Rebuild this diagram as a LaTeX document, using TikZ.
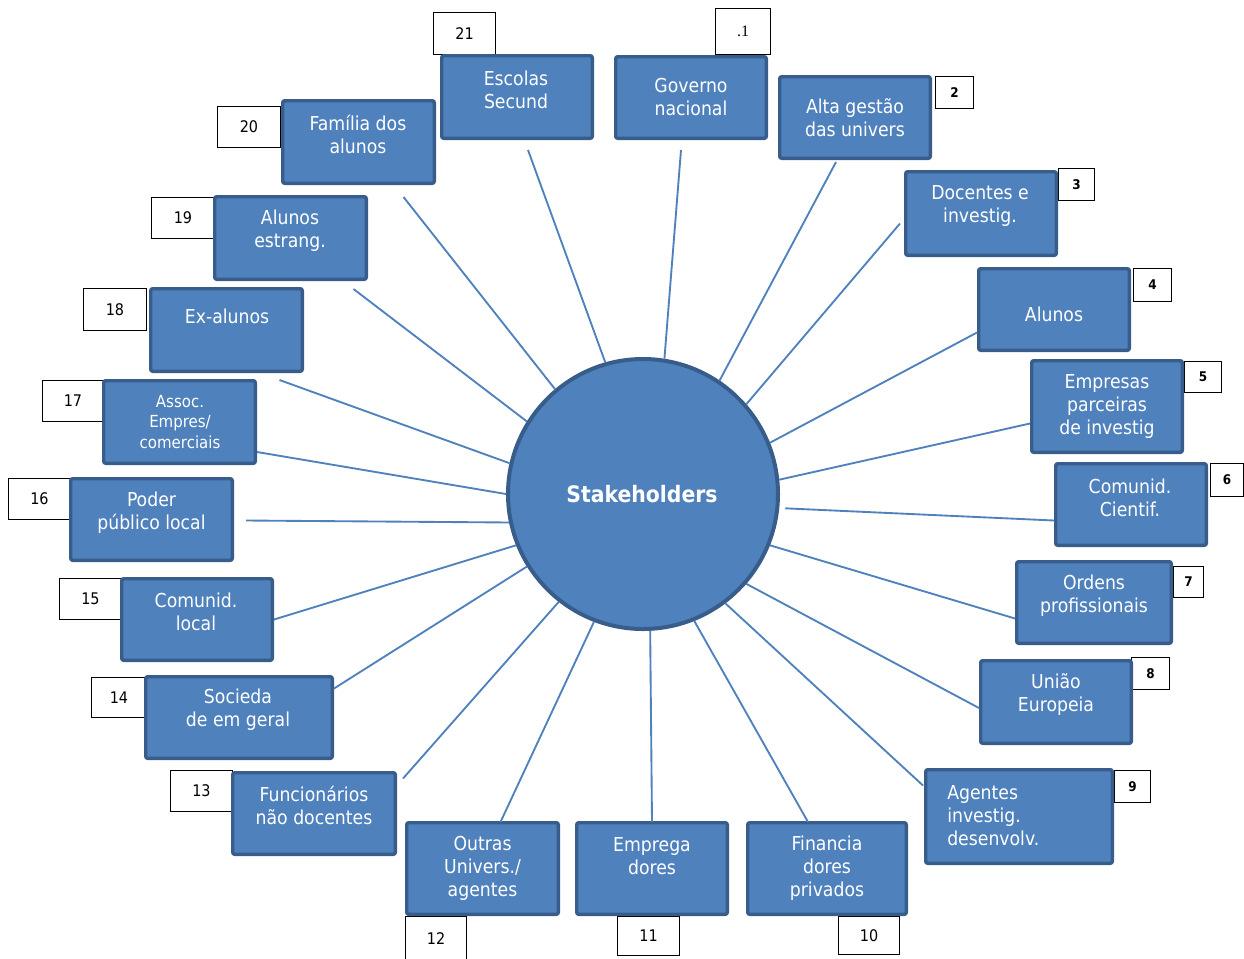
\documentclass[tikz,border=0pt]{standalone}
\usepackage{fontspec}
\usetikzlibrary{calc}
\setmainfont{DejaVu Sans Condensed}
\newfontfamily\numserif{Liberation Serif}
\definecolor{boxfill}{HTML}{4F81BD}
\definecolor{boxline}{HTML}{385D8A}
\definecolor{linkc}{HTML}{4F81BD}
\begin{document}
\begin{tikzpicture}[x=0.75pt,y=-0.75pt,
  sbox/.style 2 args={draw=boxline, fill=boxfill, line width=2.6pt,
    rounded corners=1.5pt, inner sep=0pt,
    minimum width=#1*0.75pt-2.6pt, minimum height=#2*0.75pt-2.6pt},
  lbl/.style={text=white, align=center, font=\fontsize{14.4}{17.25}\selectfont, inner sep=0pt},
  nbox/.style 2 args={draw=black, fill=white, line width=1.1pt, inner sep=0pt,
    minimum width=#1*0.75pt-1.1pt, minimum height=#2*0.75pt-1.1pt},
  num/.style={font=\fontsize{12}{14}\selectfont},
  snum/.style={font=\fontsize{10}{12}\selectfont\bfseries},
  link/.style={draw=linkc, line width=1.4pt}]
\clip (0,0) rectangle (1244,958);
\useasboundingbox (0,0) rectangle (1244,958);

% number tags (behind the blue boxes)
\node[nbox={56}{47}, num] (n1) at (743,31.5) {\numserif .1};
\node[nbox={39}{33}, snum] (n2) at (954.5,92.5) {2};
\node[nbox={37}{33}, snum] (n3) at (1076.5,184.5) {3};
\node[nbox={39}{34}, snum] (n4) at (1152.5,285) {4};
\node[nbox={38}{32}, snum] (n5) at (1203,377) {5};
\node[nbox={34}{34}, snum] (n6) at (1227,480) {6};
\node[nbox={31}{32}, snum] (n7) at (1188.5,582) {7};
\node[nbox={39}{33}, snum] (n8) at (1150.5,673.5) {8};
\node[nbox={37}{33}, snum] (n9) at (1132.5,786.5) {9};
\node[nbox={62}{39}, num] (n10) at (869,935.5) {10};
\node[nbox={63}{40}, num] (n11) at (648.5,936) {11};
\node[nbox={62}{46}, num] (n12) at (436,939) {12};
\node[nbox={63}{42}, num] (n13) at (201.5,791) {13};
\node[nbox={56}{41}, num] (n14) at (119,697.5) {14};
\node[nbox={63}{42}, num] (n15) at (90.5,599) {15};
\node[nbox={63}{42}, num] (n16) at (39.5,499) {16};
\node[nbox={62}{42}, num] (n17) at (73,401) {17};
\node[nbox={64}{43}, num] (n18) at (115,309.5) {18};
\node[nbox={64}{42}, num] (n19) at (183,218) {19};
\node[nbox={64}{42}, num] (n20) at (249,127) {20};
\node[nbox={63}{43}, num] (n21) at (464.5,33.5) {21};

% central hub
\node[draw=boxline, fill=boxfill, line width=3pt, circle, inner sep=0pt,
  minimum size=274*0.75pt-3pt] (hub) at (643,494) {};
\node[text=white, font=\fontsize{17}{20}\selectfont\bfseries] (hubtxt) at (642,494) {Stakeholders};

% stakeholder boxes
\node[sbox={154}{85}] (b1) at (691,97.5) {};
\node[sbox={154}{85}] (b2) at (855,117.5) {};
\node[sbox={154}{87}] (b3) at (981,213.5) {};
\node[sbox={154}{85}] (b4) at (1054,309.5) {};
\node[sbox={154}{95}] (b5) at (1107,406.5) {};
\node[sbox={154}{85}] (b6) at (1131,504.5) {};
\node[sbox={158}{85}] (b7) at (1094,602.5) {};
\node[sbox={154}{86}] (b8) at (1056,702) {};
\node[sbox={190}{97}] (b9) at (1019,816.5) {};
\node[sbox={162}{95}] (b10) at (827,868.5) {};
\node[sbox={154}{95}] (b11) at (652,868.5) {};
\node[sbox={155}{95}] (b12) at (482.5,868.5) {};
\node[sbox={166}{85}] (b13) at (314,813.5) {};
\node[sbox={190}{85}] (b14) at (239,717.5) {};
\node[sbox={154}{85}] (b15) at (197,619.5) {};
\node[sbox={165}{85}] (b16) at (151.5,519.5) {};
\node[sbox={155}{86}] (b17) at (179.5,422) {};
\node[sbox={155}{86}] (b18) at (226.5,330) {};
\node[sbox={155}{86}] (b19) at (290.5,238) {};
\node[sbox={155}{86}] (b20) at (358.5,142) {};
\node[sbox={154}{86}] (b21) at (517,97) {};

% box texts
\node[lbl] (t1) at (691,97) {Governo\\nacional};
\node[lbl] (t2) at (855,117.5) {Alta gestão\\das univers};
\node[lbl] (t3) at (980,206) {Docentes e\\investig.};
\node[lbl] (t4) at (1054,314) {Alunos};
\node[lbl] (t5) at (1107,406) {Empresas\\parceiras\\de investig};
\node[lbl] (t6) at (1130,497.5) {Comunid.\\Cientif.};
\node[lbl] (t7) at (1094,595.5) {Ordens\\profissionais};
\node[lbl] (t8) at (1056,694.5) {União\\Europeia};
\node[lbl, align=left, anchor=west] (t9) at (947,816) {Agentes\\investig.\\desenvolv.};
\node[lbl] (t10) at (827,868) {Financia\\dores\\privados};
\node[lbl] (t11) at (652,856.5) {Emprega\\dores};
\node[lbl] (t12) at (482.5,868) {Outras\\Univers./\\agentes};
\node[lbl] (t13) at (314,805.5) {Funcionários\\não docentes};
\node[lbl] (t14) at (238,709.5) {Socieda\\de em geral};
\node[lbl] (t15) at (196,612) {Comunid.\\local};
\node[lbl] (t16) at (151.5,512.5) {Poder\\público local};
\node[lbl, font=\fontsize{12.5}{15.4}\selectfont] (t17) at (180,422) {Assoc.\\Empres/\\comerciais};
\node[lbl] (t18) at (227,316) {Ex-alunos};
\node[lbl] (t19) at (290,230.5) {Alunos\\estrang.};
\node[lbl] (t20) at (358,134.5) {Família dos\\alunos};
\node[lbl] (t21) at (516,89.5) {Escolas\\Secund};

% spokes from the hub to each stakeholder
\draw[link] (hub.81.6)   -- ($(b1.south)+(-10,10)$);
\draw[link] (hub.56.3)   -- ($(b2.south)+(-19,2)$);
\draw[link] (hub.41.2)   -- ($(b3.west)+(-4,10)$);
\draw[link] (hub.22.9)   -- ($(b4.west)+(0,23)$);
\draw[link] (hub.6.6)    -- ($(b5.west)+(0,17)$);
\draw[link] ($(hub.-6.6)+(6,0)$) -- ($(b6.west)+(0,16)$);
\draw[link] (hub.-22.7)  -- ($(b7.west)+(0,16)$);
\draw[link] (hub.-41.6)  -- ($(b8.west)+(0,6)$);
\draw[link] (hub.-53.9)  -- ($(b9.west)+(-1,-31)$);
\draw[link] (hub.-68.8)  -- ($(b10.north)+(-19,1)$);
\draw[link] (hub.-87.4)  -- ($(b11.north)+(0,1)$);
\draw[link] (hub.-111.6) -- ($(b12.north)+(18,1)$);
\draw[link] (hub.-128.3) -- ($(b13.east)+(6,-35)$);
\draw[link] (hub.-148.0) -- ($(b14.east)+(0,-29)$);
\draw[link] (hub.-158.1) -- ($(b15.east)+(0,0)$);
\draw[link] (hub.-168.9) -- ($(b16.east)+(12,1)$);
\draw[link] (hub.180)    -- ($(b17.east)+(0,30)$);
\draw[link] (hub.167.3)  -- ($(b18.south)+(53,7)$);
\draw[link] (hub.148.5)  -- ($(b19.south)+(63,8)$);
\draw[link] (hub.130.0)  -- ($(b20.south)+(45,12)$);
\draw[link] (hub.106.7)  -- ($(b21.south)+(11,10)$);
\end{tikzpicture}
\end{document}
